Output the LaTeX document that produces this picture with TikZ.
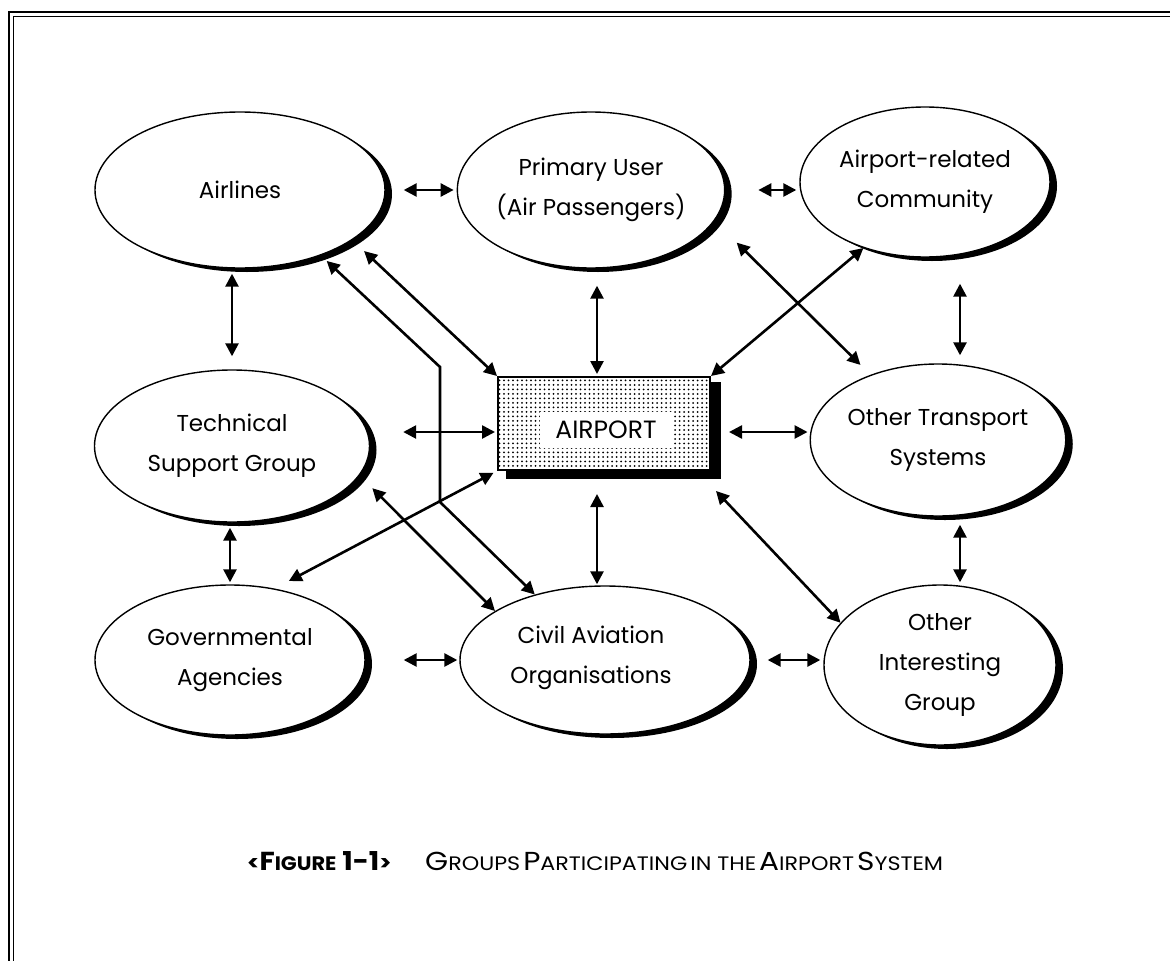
\documentclass[tikz,border=0pt]{standalone}
\usepackage{fontspec}
\setmainfont{Poppins}
\usetikzlibrary{shapes.geometric,arrows.meta,shadows,patterns.meta,backgrounds}

% fake small capitals: first letter large, rest smaller
\newcommand\capsm[2]{{\fontsize{26}{26}\selectfont #1}{\fontsize{19.5}{19.5}\selectfont #2}}

\begin{document}
\begin{tikzpicture}[x=1pt,y=-1pt,
  group/.style={ellipse, draw, line width=1.4pt, fill=white, inner sep=0pt,
    align=center, font=\fontsize{23}{40}\selectfont,
    drop shadow={shadow xshift=7pt, shadow yshift=-4pt, opacity=1, fill=black}},
  grouplabel/.style={align=center, font=\fontsize{23}{40}\selectfont, inner sep=0pt},
  link/.style={line width=2.6pt,
    {Triangle[length=13pt,width=13pt]}-{Triangle[length=13pt,width=13pt]}},
  frameline/.style={line width=1.6pt},
  captiontext/.style={anchor=base west, inner sep=0pt, transform shape}]

\useasboundingbox (0,0) rectangle (1170,961);

% page frame (double rule, top and left)
\draw[frameline] (1170,12) -- (9,12) -- (9,961);
\draw[frameline] (1170,16.5) -- (13.5,16.5) -- (13.5,961);

% participating groups
\node[group, minimum width=290pt, minimum height=156pt] (airlines) at (240,190) {Airlines};
\node[group, minimum width=260pt, minimum height=156pt] (primary) at (591,190) {Primary User\\(Air Passengers)};
\node[group, minimum width=250pt, minimum height=150pt] (arc) at (925,182) {Airport-related\\Community};
\node[group, minimum width=275pt, minimum height=152pt] (tech) at (232,446) {Technical\\Support Group};
\node[group, minimum width=236pt, minimum height=152pt] (ots) at (938,440) {Other Transport\\Systems};
\node[group, minimum width=270pt, minimum height=150pt] (gov) at (230,660) {Governmental\\Agencies};
\node[group, minimum width=290pt, minimum height=148pt] (civil) at (605,660) {};
\node[grouplabel] (civillabel) at (591,658) {Civil Aviation\\Organisations};
\node[group, minimum width=232pt, minimum height=160pt] (oig) at (940,665) {Other\\Interesting\\Group};

% central airport box with halftone fill
\node[draw, line width=2pt, minimum width=212pt, minimum height=93pt, inner sep=0pt,
  preaction={fill=white}, pattern={Dots[distance=4.5pt,radius=1pt]}] (airport) at (604,423.5) {};
\node[fill=white, minimum width=132pt, minimum height=36pt, inner sep=0pt,
  font=\fontsize{25}{30}\selectfont] (airportlabel) at (606,430) {AIRPORT};
\begin{scope}[on background layer]
  \fill ([shift={(9pt,-8pt)}]airport.south west) rectangle ([shift={(10pt,-6pt)}]airport.north east);
\end{scope}

% bend points of the Airlines -- Civil Aviation link
\coordinate (bendA) at (440,367);
\coordinate (bendB) at (440,502);

% horizontal links
\draw[link, shorten <=18pt, shorten >=3pt] (airlines.east) -- (primary.west);
\draw[link, shorten <=33pt, shorten >=3pt] (primary.east) -- (primary.east -| arc.west);
\draw[link, shorten <=2pt, shorten >=33pt] ([yshift=-8.5pt]airport.west) -- ([yshift=-8.5pt]airport.west -| tech.east);
\draw[link, shorten <=18pt, shorten >=2pt] ([yshift=-8.5pt]airport.east) -- ([yshift=-8.5pt]airport.east -| ots.west);
\draw[link, shorten <=38pt, shorten >=2pt] (gov.east) -- (gov.east -| civil.west);
\draw[link, shorten <=17pt, shorten >=3pt] (civil.east) -- (civil.east -| oig.west);

% vertical links
\draw[link, shorten <=13pt, shorten >=5pt] (tech.north) -- (tech.north |- airlines.south);
\draw[link, shorten <=2pt, shorten >=17pt] ([xshift=-7pt]airport.north) -- ([xshift=-7pt]airport.north |- primary.south);
\draw[link, shorten <=8pt, shorten >=26pt] ([xshift=22pt]ots.north) -- ([xshift=22pt]ots.north |- arc.south);
\draw[link, shorten <=2pt, shorten >=5pt] (gov.north) -- (gov.north |- tech.south);
\draw[link, shorten <=23pt, shorten >=1pt] ([xshift=-7pt]airport.south) -- ([xshift=-7pt]airport.south |- civil.north);
\draw[link, shorten <=8pt, shorten >=2pt] ([xshift=22pt]ots.south) -- ([xshift=22pt]ots.south |- oig.north);

% diagonal links
\draw[link, shorten <=16pt] (airlines.-24) -- (airport.north west);
\draw[link, shorten <=8pt] (airlines.-39) -- (bendA) -- (bendB) -- (civil.137);
\draw[link, shorten <=18pt] (tech.-13) -- (civil.156);
\draw[link, shorten <=16pt, shorten >=4pt] (gov.58) -- (airport.south west);
\draw[link, shorten <=31pt, shorten >=14pt] (primary.-14) -- (ots.136);
\draw[link] (arc.227) -- (airport.north east);
\draw[link] ([shift={(5pt,-20pt)}]airport.south east) -- (oig.157);

% caption
\node[captiontext, xscale=1.07] (figno) at (247,870)
  {\bfseries{\fontsize{21}{21}\selectfont<}\capsm{F}{IGURE}{\fontsize{26}{26}\selectfont\ 1-1}{\fontsize{21}{21}\selectfont>}};
\node[captiontext, xscale=1.14] (figtitle) at (425,870)
  {\capsm{G}{ROUPS} \capsm{P}{ARTICIPATING} {\fontsize{19.5}{19.5}\selectfont IN THE} \capsm{A}{IRPORT} \capsm{S}{YSTEM}};

\end{tikzpicture}
\end{document}
